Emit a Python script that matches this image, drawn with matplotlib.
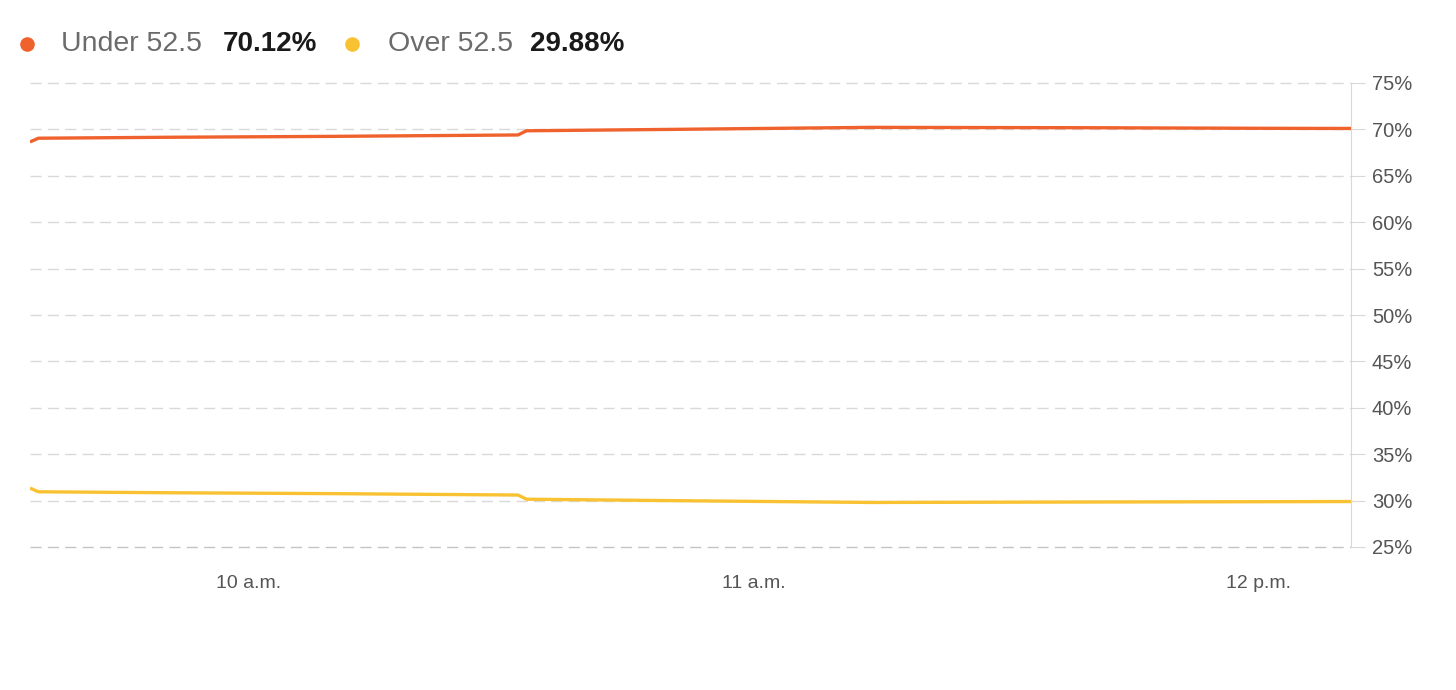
import matplotlib
matplotlib.use("Agg")
import matplotlib.pyplot as plt
from matplotlib.lines import Line2D
import pandas as pd

plt.rcParams['font.family'] = ['Liberation Sans', 'DejaVu Sans']

times = ["09:34", "09:35", "09:50", "10:10", "10:32", "10:33",
         "10:50", "11:14", "11:40", "12:00", "12:11"]
under = [68.65, 69.05, 69.15, 69.25, 69.40, 69.85,
         70.00, 70.22, 70.18, 70.12, 70.10]
over = [31.35, 30.95, 30.85, 30.75, 30.60, 30.15,
        30.00, 29.80, 29.85, 29.88, 29.90]

yticks = [25, 30, 35, 40, 45, 50, 55, 60, 65, 70, 75]
xticks = ["10:00", "11:00", "12:00"]
xlabels = ["10 a.m.", "11 a.m.", "12 p.m."]

day = "2024-01-01 "
t = pd.to_datetime([day + s for s in times])
xt = pd.to_datetime([day + s for s in xticks])

orange = '#F0622D'
yellow = '#F8C232'

fig = plt.figure(figsize=(14.56, 6.9), dpi=100)
ax = fig.add_axes([30 / 1456, 1 - 547 / 690, 1321 / 1456, 464 / 690])

ax.plot(t, under, color=orange, lw=2.4, solid_capstyle='butt', zorder=3)
ax.plot(t, over, color=yellow, lw=2.4, solid_capstyle='butt', zorder=3)

ax.set_xlim(t[0], t[-1])
ax.set_ylim(25, 75)

ax.yaxis.tick_right()
ax.set_yticks(yticks)
ax.set_yticklabels([f"{v}%" for v in yticks])
ax.tick_params(axis='y', length=10, width=0.8, color='#d8d8d8',
               labelsize=14.5, labelcolor='#555555', pad=5)

ax.set_xticks(xt)
ax.set_xticklabels(xlabels)
ax.tick_params(axis='x', length=0, labelsize=14, labelcolor='#555555', pad=20)

for v in yticks:
    c = '#c4c4c4' if v == 25 else '#d9d9d9'
    ax.axhline(v, color=c, lw=1, dashes=(8, 4.5), zorder=1, clip_on=False)

for s in ['top', 'left', 'bottom']:
    ax.spines[s].set_visible(False)
ax.spines['right'].set_color('#d8d8d8')
ax.spines['right'].set_linewidth(0.8)

# header legend
yc = 1 - 44 / 690
for x, col in [(27, orange), (352, yellow)]:
    fig.add_artist(Line2D([x / 1456], [yc], marker='o', markersize=9.5,
                          color=col, transform=fig.transFigure))
fig.text(61 / 1456, yc, "Under 52.5", fontsize=20.5, color='#6b6b6b', va='center')
fig.text(223 / 1456, yc, "70.12%", fontsize=20, color='#1a1a1a',
         fontweight='bold', va='center')
fig.text(388 / 1456, yc, "Over 52.5", fontsize=20.5, color='#6b6b6b', va='center')
fig.text(530 / 1456, yc, "29.88%", fontsize=20, color='#1a1a1a',
         fontweight='bold', va='center')

fig.savefig("out.png", dpi=100, facecolor='white')
